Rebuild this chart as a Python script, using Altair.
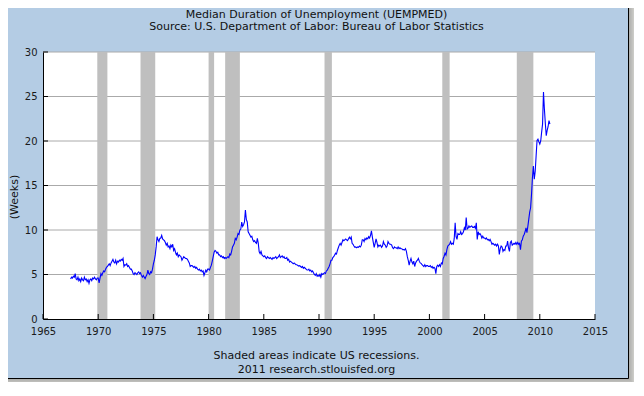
import altair as alt
import pandas as pd

# ---- data (monthly median duration of unemployment, weeks) ----
start_year = 1967
start_month = 7
median_weeks = [
    # 1967 (Jul-Dec)
    4.5, 4.7, 4.6, 4.8, 4.7, 5.1,
    # 1968
    4.5, 4.4, 4.7, 4.3, 4.5, 4.2, 4.6, 4.4, 4.3, 4.7, 4.4, 4.5,
    # 1969
    4.2, 4.4, 4.0, 4.4, 4.5, 4.3, 4.6, 4.5, 4.7, 4.5, 4.4, 4.6,
    # 1970
    4.6, 4.05, 4.6, 5.1, 4.9, 5.2, 5.4, 5.3, 5.6, 5.8, 5.9, 6.05,
    # 1971
    6.2, 6.0, 6.3, 6.5, 6.7, 6.4, 6.3, 6.6, 6.2, 6.5, 6.4, 6.6,
    # 1972
    6.5, 6.7, 6.6, 6.8, 5.9, 6.1, 6.05, 6.2, 5.9, 6.0, 5.8, 5.6,
    # 1973
    5.6, 5.4, 5.1, 5.0, 5.2, 5.1, 5.0, 5.2, 5.3, 5.1, 5.2, 4.9,
    # 1974
    4.7, 4.9, 4.7, 4.55, 4.8, 5.0, 5.5, 5.1, 5.0, 5.3, 5.2, 5.6,
    # 1975
    6.2, 6.6, 7.2, 8.1, 9.25, 8.9, 8.7, 9.05, 9.1, 9.4, 9.0, 8.9,
    # 1976
    8.8, 8.6, 8.3, 8.5, 8.1, 8.2, 7.9, 8.3, 8.1, 8.4, 7.7, 7.9,
    # 1977
    7.5, 7.2, 7.4, 7.0, 7.2, 7.1, 7.0, 6.6, 6.8, 7.0, 6.9, 6.8,
    # 1978
    6.8, 6.7, 6.5, 6.3, 5.9, 6.0, 6.0, 5.9, 5.8, 5.9, 5.7, 5.8,
    # 1979
    5.6, 5.5, 5.6, 5.4, 5.5, 5.3, 5.4, 4.9, 5.2, 5.5, 5.3, 5.6,
    # 1980
    5.6, 5.5, 5.8, 6.05, 6.5, 7.0, 7.5, 7.7, 7.6, 7.4, 7.5, 7.2,
    # 1981
    7.2, 7.0, 7.1, 6.9, 7.0, 6.8, 6.9, 6.8, 6.9, 7.0, 6.9, 7.3,
    # 1982
    7.2, 7.6, 8.1, 8.3, 8.5, 9.05, 8.9, 9.2, 9.6, 9.5, 10.0, 10.1,
    # 1983
    10.9, 10.4, 10.6, 10.9, 12.25, 11.2, 10.9, 9.8, 9.6, 9.4, 9.2, 9.3,
    # 1984
    8.9, 8.7, 8.8, 8.6, 8.5, 9.05, 8.5, 7.55, 7.35, 7.6, 7.2, 7.1,
    # 1985
    7.0, 7.1, 6.9, 6.8, 7.0, 6.9, 6.8, 6.9, 6.8, 6.7, 6.9, 6.8,
    # 1986
    6.9, 7.0, 6.8, 6.9, 7.0, 7.2, 6.9, 7.0, 7.1, 6.9, 7.0, 6.8,
    # 1987
    6.8, 6.9, 6.6, 6.7, 6.4, 6.5, 6.4, 6.3, 6.2, 6.3, 6.2, 6.1,
    # 1988
    6.1, 6.0, 5.95, 6.0, 5.9, 5.8, 5.9, 5.7, 5.8, 5.7, 5.6, 5.5,
    # 1989
    5.5, 5.6, 5.4, 5.5, 5.3, 5.4, 5.2, 5.0, 4.9, 5.1, 4.8, 4.9,
    # 1990
    4.8, 5.0, 4.7, 5.1, 5.0, 5.1, 5.2, 5.1, 5.4, 5.5, 5.7, 5.9,
    # 1991
    6.2, 6.6, 6.6, 6.9, 7.0, 7.2, 7.4, 7.3, 7.7, 8.0, 8.3, 8.5,
    # 1992
    8.3, 8.6, 8.9, 8.8, 8.9, 9.0, 8.9, 8.8, 9.0, 9.2, 9.0, 9.2,
    # 1993
    8.5, 8.4, 8.2, 8.05, 8.1, 8.0, 8.1, 8.05, 8.2, 8.1, 8.3, 8.9,
    # 1994
    8.9, 8.7, 9.05, 8.9, 9.1, 9.0, 9.25, 9.1, 9.4, 9.9, 9.2, 8.6,
    # 1995
    8.05, 8.5, 9.0, 8.6, 8.1, 8.3, 8.2, 8.3, 8.05, 8.2, 8.7, 8.4,
    # 1996
    8.3, 8.05, 8.2, 8.7, 8.5, 8.4, 8.4, 8.3, 8.0, 7.9, 8.1, 8.0,
    # 1997
    8.0, 7.9, 8.1, 7.9, 8.0, 7.9, 7.9, 7.8, 7.8, 7.75, 7.9, 7.6,
    # 1998
    7.0, 6.6, 6.05, 6.5, 6.8, 6.4, 6.2, 6.5, 5.9, 6.3, 6.5, 6.6,
    # 1999
    6.8, 6.5, 6.3, 6.25, 6.1, 6.0, 5.9, 6.1, 5.9, 6.0, 6.0, 5.9,
    # 2000
    5.9, 6.0, 5.8, 5.9, 5.7, 5.8, 5.7, 5.1, 5.9, 6.05, 5.9, 6.1,
    # 2001
    5.9, 6.3, 6.2, 6.8, 7.05, 7.4, 7.2, 7.8, 8.2, 8.3, 8.4, 8.7,
    # 2002
    8.4, 8.5, 8.4, 9.05, 10.8, 9.25, 8.95, 9.6, 9.5, 9.5, 9.8, 9.5,
    # 2003
    9.6, 9.8, 10.25, 10.0, 11.4, 10.1, 10.2, 10.45, 10.3, 10.4, 10.45, 10.3,
    # 2004
    10.3, 10.4, 10.2, 10.8, 8.95, 9.8, 9.5, 9.6, 9.4, 9.1, 9.3, 9.1,
    # 2005
    9.1, 9.0, 9.1, 8.9, 8.95, 8.8, 8.95, 8.7, 8.4, 8.5, 8.4, 8.3,
    # 2006
    8.4, 8.2, 8.4, 8.2, 7.25, 7.9, 8.2, 8.1, 7.6, 7.8, 7.7, 8.2,
    # 2007
    8.2, 8.75, 8.0, 7.6, 8.6, 8.75, 8.3, 8.4, 8.5, 8.4, 8.6, 8.4,
    # 2008
    8.6, 8.4, 8.5, 7.8, 8.75, 8.9, 9.3, 9.5, 9.8, 10.25, 9.7, 10.4,
    # 2009
    11.2, 12.0, 12.5, 14.0, 15.9, 17.2, 15.7, 16.6, 18.35, 20.05, 20.2, 19.9,
    # 2010
    19.65, 20.0, 21.0, 21.9, 25.5, 23.6, 22.0, 20.6, 21.2, 21.6, 22.3, 21.9,
]

# NBER recessions (decimal years: peak month start -> trough month start)
rec_start = [1969.917, 1973.833, 1980.0, 1981.5, 1990.5, 2001.167, 2007.917]
rec_end = [1970.833, 1975.167, 1980.5, 1982.833, 1991.167, 2001.833, 2009.417]

x_ticks = [1965, 1970, 1975, 1980, 1985, 1990, 1995, 2000, 2005, 2010, 2015]
y_ticks = [0, 5, 10, 15, 20, 25, 30]
grid_vals = [5, 10, 15, 20, 25, 30]

title_lines = ["Median Duration of Unemployment (UEMPMED)",
               "Source: U.S. Department of Labor: Bureau of Labor Statistics"]
footer_lines = ["Shaded areas indicate US recessions.",
                "2011 research.stlouisfed.org"]
y_title = "(Weeks)"

# ---- tables ----
t = [start_year + (start_month - 1 + i) / 12.0 for i in range(len(median_weeks))]
series = pd.DataFrame({"t": t, "weeks": median_weeks})
rec = pd.DataFrame({"start": rec_start, "end": rec_end})
xt = pd.DataFrame({"tick": x_ticks})
yt = pd.DataFrame({"val": y_ticks})
gr = pd.DataFrame({"val": grid_vals})
one = pd.DataFrame({"k": [0]})

W, H = 552, 267
FONT = "DejaVu Sans"
BG = "#b4cce4"

xs = alt.Scale(domain=[1965, 2015], nice=False, zero=False)
ys = alt.Scale(domain=[0, 30], nice=False, zero=True)
x_axis = alt.Axis(values=x_ticks, format="d", ticks=False, tickSize=0, grid=False,
                  domainColor="black", domainWidth=1, labelFont=FONT, labelFontSize=10,
                  labelColor="#1a1a1a", labelPadding=7, labelFlush=False,
                  labelOverlap=False, title=None, zindex=1)
y_axis = alt.Axis(values=y_ticks, format="d", ticks=False, tickSize=0, grid=False,
                  domainColor="black", domainWidth=1, labelFont=FONT, labelFontSize=10,
                  labelColor="#1a1a1a", labelPadding=6, labelFlush=False,
                  labelOverlap=False, title=None, zindex=1)

layers = []
# drop shadow of the frame
for k in range(1, 11):
    layers.append(alt.Chart(one).mark_rect(color="black", opacity=0.03).encode(
        x=alt.value(-43 + 6), x2=alt.value(585 + k),
        y=alt.value(-52 + 6), y2=alt.value(326 + k)))
# blue frame
layers.append(alt.Chart(one).mark_rect(fill=BG, stroke="black", strokeWidth=1).encode(
    x=alt.value(-43.5), x2=alt.value(585.5), y=alt.value(-51.5), y2=alt.value(326.5)))
# white plot area
layers.append(alt.Chart(one).mark_rect(fill="white").encode(
    x=alt.value(0), x2=alt.value(W), y=alt.value(0), y2=alt.value(H)))
# gridlines
layers.append(alt.Chart(gr).mark_rule(color="#aaaaaa", strokeWidth=1).encode(
    y=alt.Y("val:Q", scale=ys, axis=y_axis), x=alt.value(0), x2=alt.value(W)))
# recession bars
layers.append(alt.Chart(rec).mark_rect(color="#bfbfbf").encode(
    x=alt.X("start:Q", scale=xs, axis=x_axis), x2="end:Q",
    y=alt.value(0), y2=alt.value(H)))
# inward ticks
layers.append(alt.Chart(xt).mark_rule(color="black", strokeWidth=1).encode(
    x=alt.X("tick:Q", scale=xs, axis=x_axis), y=alt.value(H - 5), y2=alt.value(H)))
layers.append(alt.Chart(yt).mark_rule(color="black", strokeWidth=1).encode(
    y=alt.Y("val:Q", scale=ys, axis=y_axis), x=alt.value(0), x2=alt.value(5)))
# the series
layers.append(alt.Chart(series).mark_line(color="#0000ff", strokeWidth=1.1).encode(
    x=alt.X("t:Q", scale=xs, axis=x_axis),
    y=alt.Y("weeks:Q", scale=ys, axis=y_axis)))


def text_layer(txt, x, y, size=11, angle=0):
    return alt.Chart(pd.DataFrame({"s": [txt]})).mark_text(
        font=FONT, fontSize=size, color="#111111", align="center",
        baseline="middle", angle=angle).encode(
        text="s:N", x=alt.value(x), y=alt.value(y))


layers.append(text_layer(title_lines[0], 273.5, -37.5))
layers.append(text_layer(title_lines[1], 273.5, -25))
layers.append(text_layer(footer_lines[0], 273.5, 304))
layers.append(text_layer(footer_lines[1], 273.5, 317.5))
layers.append(text_layer(y_title, -28.5, 145, angle=270))

chart = alt.layer(*layers).properties(
    width=W, height=H,
    autosize=alt.AutoSizeParams(type="none"),
    padding={"left": 35, "top": 44, "right": 39, "bottom": 63},
    background="#f1f0ec",
).configure_view(stroke=None)

chart.save("out.html", embed_options={"renderer": "svg", "actions": False})
